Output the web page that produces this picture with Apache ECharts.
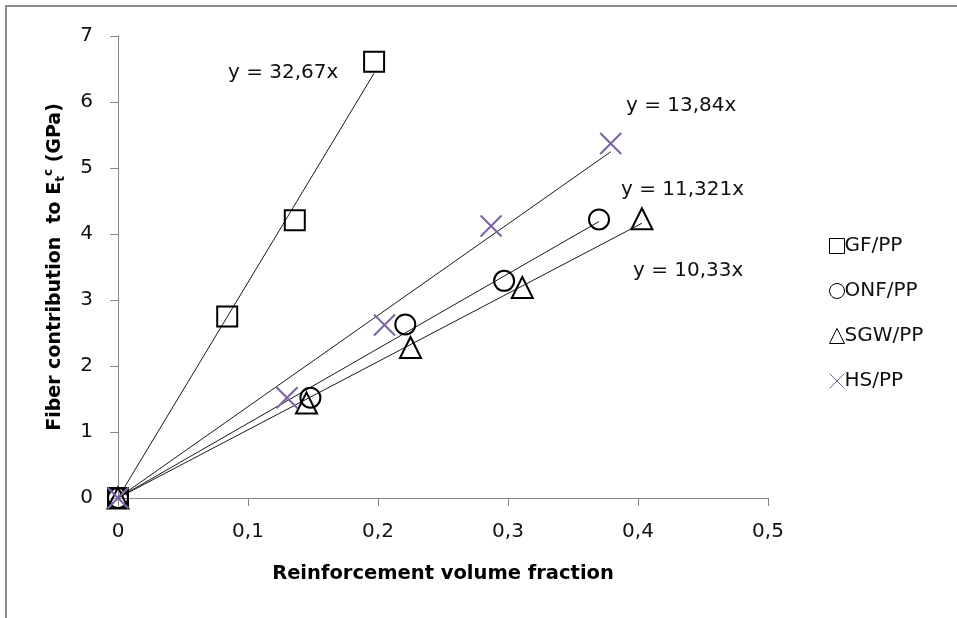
<!DOCTYPE html>
<html>
<head>
<meta charset="utf-8">
<script src="https://cdn.jsdelivr.net/npm/echarts@6/dist/echarts.min.js"></script>
<style>
html,body{margin:0;padding:0;background:#fff;}
#c{width:957px;height:618px;}
</style>
</head>
<body>
<div id="c"></div>
<script>
// ---- data ----
const seriesNames = ['GF/PP', 'ONF/PP', 'SGW/PP', 'HS/PP'];
const gfData  = [[0, 0], [0.084, 2.75], [0.136, 4.21], [0.197, 6.61]];
const onfData = [[0, 0], [0.148, 1.52], [0.221, 2.63], [0.297, 3.29], [0.370, 4.22]];
const sgwData = [[0, 0], [0.145, 1.44], [0.225, 2.28], [0.311, 3.19], [0.403, 4.23]];
const hsData  = [[0, 0], [0.130, 1.52], [0.205, 2.62], [0.287, 4.12], [0.379, 5.37]];
const slopes  = [32.67, 11.321, 10.33, 13.84];
const equationTexts = ['y = 32,67x', 'y = 11,321x', 'y = 10,33x', 'y = 13,84x'];
const xTicks = [0, 0.1, 0.2, 0.3, 0.4, 0.5];
const yTicks = [0, 1, 2, 3, 4, 5, 6, 7];

const allData = [gfData, onfData, sgwData, hsData];
const FONT = 'DejaVu Sans';
const crossPath = 'path://M0,0L20,20M20,0L0,20';
const symbols = ['rect', 'circle', 'triangle', crossPath];
const colors = ['#000000', '#000000', '#000000', '#7B62A3'];
const sizes = [20, 20, 21, 21];

const series = [];
// trend lines through origin
allData.forEach((d, i) => {
  const xmax = Math.max(...d.map(p => p[0]));
  series.push({
    type: 'line',
    data: [[0, 0], [xmax, slopes[i] * xmax]],
    showSymbol: false,
    symbol: 'none',
    lineStyle: { color: '#1a1a1a', width: 1 },
    silent: true,
    z: 1
  });
});
allData.forEach((d, i) => {
  series.push({
    name: seriesNames[i],
    type: 'scatter',
    data: d,
    symbol: symbols[i],
    symbolSize: sizes[i],
    itemStyle: { color: 'rgba(0,0,0,0)', borderColor: colors[i], borderWidth: 2, opacity: 1 },
    z: 3
  });
});

const chart = echarts.init(document.getElementById('c'), null, { renderer: 'canvas' });
chart.setOption({
  animation: false,
  backgroundColor: '#ffffff',
  grid: { left: 118, right: 189, top: 36, bottom: 120, containLabel: false },
  xAxis: {
    type: 'value', min: 0, max: 0.5, interval: 0.1,
    name: 'Reinforcement volume fraction',
    nameLocation: 'middle', nameGap: 66,
    nameTextStyle: { fontFamily: FONT, fontWeight: 'bold', fontSize: 19.5, color: '#000' },
    axisLine: { show: true, lineStyle: { color: '#868686', width: 1 } },
    axisTick: { show: true, inside: false, length: 8, lineStyle: { color: '#868686' } },
    splitLine: { show: false },
    axisLabel: {
      fontFamily: FONT, fontSize: 20, color: '#111', margin: 24,
      formatter: v => String(xTicks.find(t => Math.abs(t - v) < 1e-9) ?? v).replace('.', ',')
    }
  },
  yAxis: {
    type: 'value', min: 0, max: 7, interval: 1,
    name: '{a|Fiber contribution  to E}{sub|t}{sup|c}{a| (GPa)}',
    nameLocation: 'middle', nameGap: 50, nameRotate: 90,
    nameTextStyle: {
      fontFamily: FONT, fontWeight: 'bold', fontSize: 19, color: '#000',
      rich: {
        a: { fontFamily: FONT, fontWeight: 'bold', fontSize: 19, color: '#000' },
        sub: { fontFamily: FONT, fontWeight: 'bold', fontSize: 12, color: '#000', padding: [11, 0, 0, 0] },
        sup: { fontFamily: FONT, fontWeight: 'bold', fontSize: 12, color: '#000', padding: [0, 0, 13, 0] }
      }
    },
    axisLine: { show: true, lineStyle: { color: '#868686', width: 1 } },
    axisTick: { show: true, inside: false, length: 8, lineStyle: { color: '#868686' } },
    splitLine: { show: false },
    axisLabel: {
      fontFamily: FONT, fontSize: 20, color: '#111', margin: 25,
      formatter: v => String(yTicks.find(t => Math.abs(t - v) < 1e-9) ?? v)
    }
  },
  legend: {
    orient: 'vertical', left: 824, top: 231,
    itemWidth: 15, itemHeight: 15, itemGap: 25,
    data: seriesNames,
    textStyle: { fontFamily: FONT, fontSize: 20, color: '#111', padding: [0, 0, 0, -5] },
    itemStyle: { borderWidth: 1 }
  },
  graphic: [
    { type: 'rect', silent: true, shape: { x: 6, y: 6, width: 1200, height: 1200 },
      style: { fill: 'none', stroke: '#8c8c8c', lineWidth: 2 }, z: 0 },
    { type: 'text', left: 228, top: 63, style: { text: equationTexts[0], font: '20px "DejaVu Sans"', fill: '#111' } },
    { type: 'text', left: 621, top: 180, style: { text: equationTexts[1], font: '20px "DejaVu Sans"', fill: '#111' } },
    { type: 'text', left: 633, top: 261, style: { text: equationTexts[2], font: '20px "DejaVu Sans"', fill: '#111' } },
    { type: 'text', left: 626, top: 96, style: { text: equationTexts[3], font: '20px "DejaVu Sans"', fill: '#111' } }
  ],
  series: series
});
</script>
</body>
</html>
